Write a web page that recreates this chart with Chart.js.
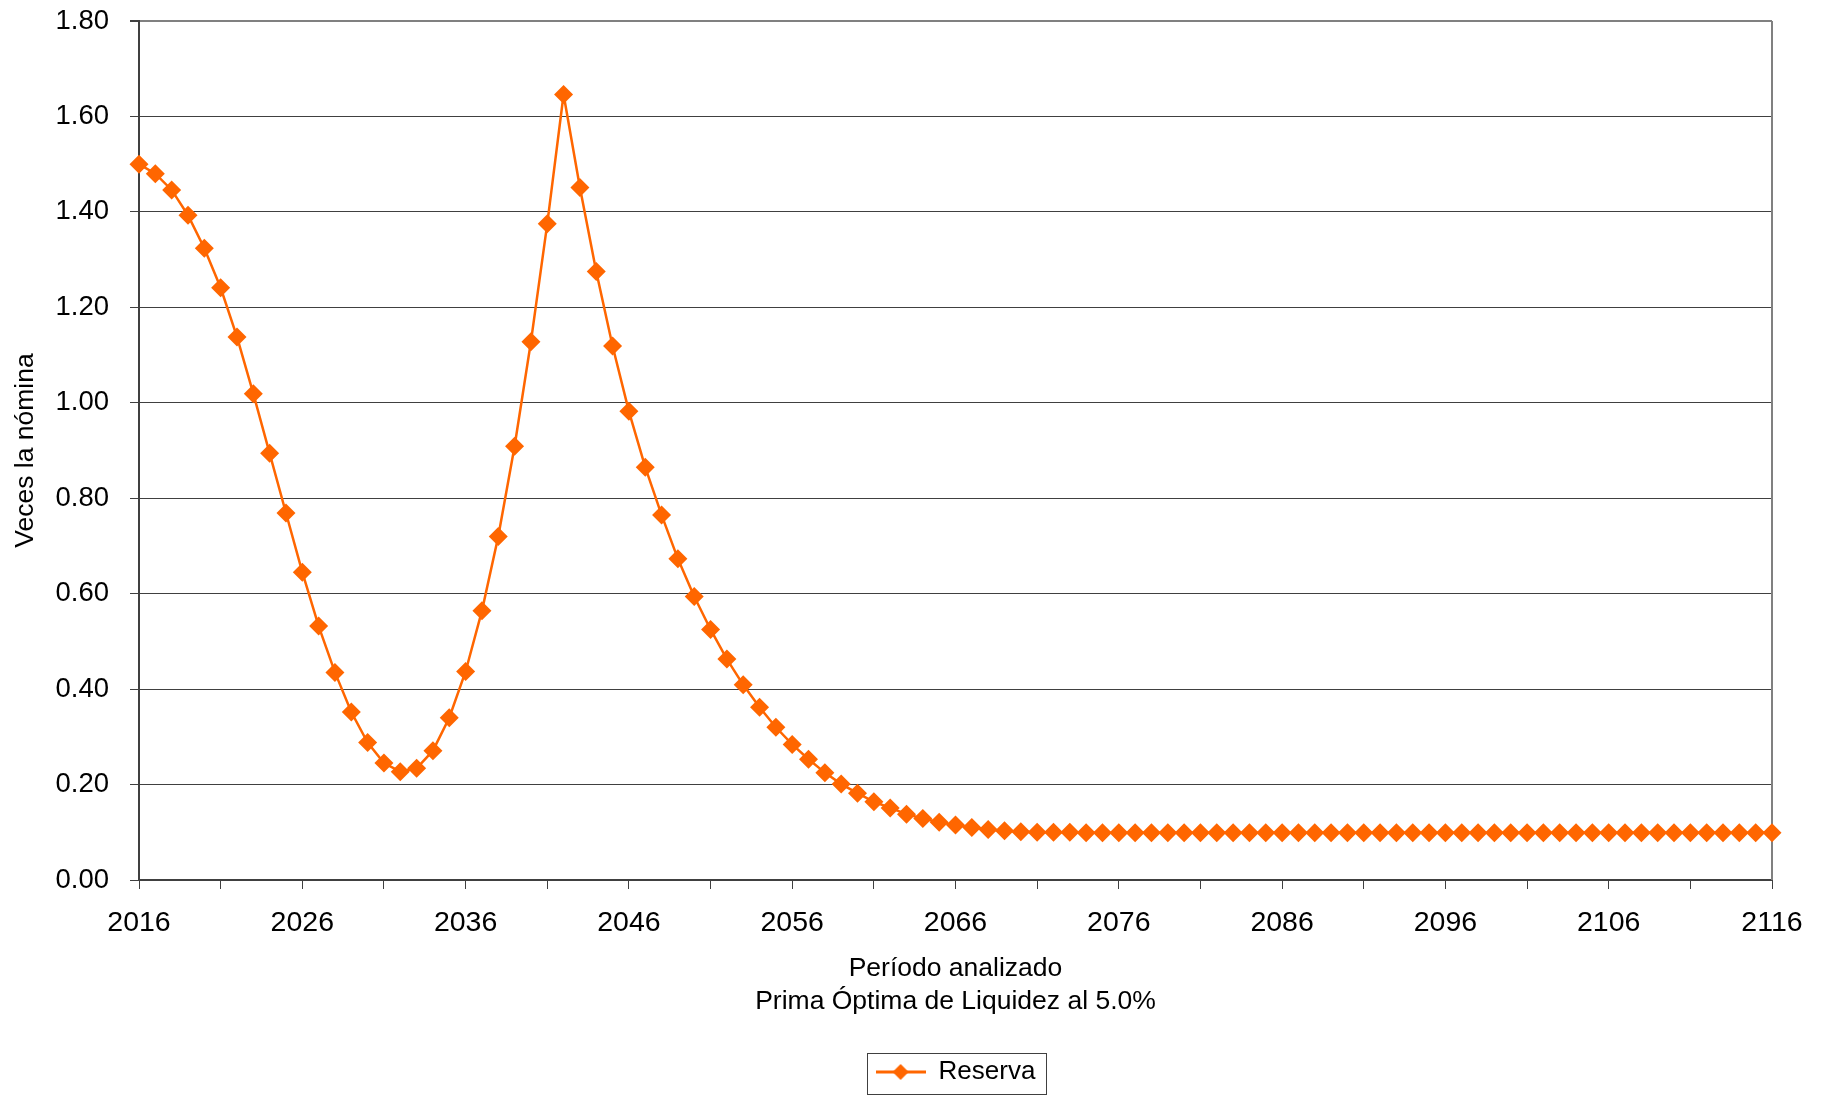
<!DOCTYPE html>
<html>
<head>
<meta charset="utf-8">
<title>Reserva</title>
<script src="https://cdn.jsdelivr.net/npm/chart.js@4"></script>
<style>
  html, body { margin: 0; padding: 0; background: #fff; }
  canvas { display: block; }
</style>
</head>
<body>
<canvas id="chart" width="1829" height="1095"></canvas>
<script>
// years on the x axis (one point per year)
const years = [
  2016, 2017, 2018, 2019, 2020, 2021, 2022, 2023, 2024, 2025,
  2026, 2027, 2028, 2029, 2030, 2031, 2032, 2033, 2034, 2035,
  2036, 2037, 2038, 2039, 2040, 2041, 2042, 2043, 2044, 2045,
  2046, 2047, 2048, 2049, 2050, 2051, 2052, 2053, 2054, 2055,
  2056, 2057, 2058, 2059, 2060, 2061, 2062, 2063, 2064, 2065,
  2066, 2067, 2068, 2069, 2070, 2071, 2072, 2073, 2074, 2075,
  2076, 2077, 2078, 2079, 2080, 2081, 2082, 2083, 2084, 2085,
  2086, 2087, 2088, 2089, 2090, 2091, 2092, 2093, 2094, 2095,
  2096, 2097, 2098, 2099, 2100, 2101, 2102, 2103, 2104, 2105,
  2106, 2107, 2108, 2109, 2110, 2111, 2112, 2113, 2114, 2115,
  2116
];

// Reserva, veces la nomina
const reserva = [
  1.500, 1.480, 1.446, 1.393, 1.324, 1.241, 1.138, 1.019, 0.894, 0.769,
  0.645, 0.532, 0.435, 0.352, 0.288, 0.245, 0.227, 0.234, 0.271, 0.340,
  0.437, 0.564, 0.720, 0.909, 1.128, 1.375, 1.646, 1.451, 1.275, 1.119,
  0.982, 0.865, 0.765, 0.673, 0.594, 0.525, 0.463, 0.409, 0.362, 0.320,
  0.284, 0.253, 0.225, 0.201, 0.182, 0.164, 0.151, 0.138, 0.129, 0.121,
  0.115, 0.110, 0.106, 0.103, 0.101, 0.100, 0.100, 0.100, 0.099, 0.099,
  0.099, 0.099, 0.099, 0.099, 0.099, 0.099, 0.099, 0.099, 0.099, 0.099,
  0.099, 0.099, 0.099, 0.099, 0.099, 0.099, 0.099, 0.099, 0.099, 0.099,
  0.099, 0.099, 0.099, 0.099, 0.099, 0.099, 0.099, 0.099, 0.099, 0.099,
  0.099, 0.099, 0.099, 0.099, 0.099, 0.099, 0.099, 0.099, 0.099, 0.099,
  0.099
];

// axis settings
const yMin = 0, yMax = 1.8, yStep = 0.2;
const xTickYears = years.filter((y, i) => i % 5 === 0);   // tick marks
const xLabelYears = years.filter((y, i) => i % 10 === 0); // labelled ticks

const orange = '#FF6600';
const gridColor = '#404040';
const frameColor = '#808080';

Chart.defaults.font.family = "'Liberation Sans', Arial, sans-serif";
Chart.defaults.color = '#000';

// little line + diamond image for the legend
function legendSymbol() {
  const c = document.createElement('canvas');
  c.width = 50; c.height = 20;
  const g = c.getContext('2d');
  g.strokeStyle = orange;
  g.lineWidth = 3;
  g.beginPath(); g.moveTo(0, 10); g.lineTo(50, 10); g.stroke();
  g.fillStyle = orange;
  g.beginPath();
  g.moveTo(25, 2); g.lineTo(33, 10); g.lineTo(25, 18); g.lineTo(17, 10);
  g.closePath(); g.fill();
  return c;
}
const symbol = legendSymbol();

// right border + box around the legend
const framePlugin = {
  id: 'frame',
  beforeDatasetsDraw(chart) {
    const { ctx, chartArea: a } = chart;
    ctx.save();
    ctx.strokeStyle = frameColor;
    ctx.lineWidth = 2;
    ctx.beginPath();
    ctx.moveTo(a.right, a.top);
    ctx.lineTo(a.right, a.bottom);
    ctx.stroke();
    ctx.restore();
  },
  afterDraw(chart) {
    const box = chart.legend.legendHitBoxes[0];
    if (!box) return;
    const ctx = chart.ctx;
    ctx.save();
    ctx.strokeStyle = gridColor;
    ctx.lineWidth = 1;
    ctx.strokeRect(Math.round(box.left - 9) + 0.5, Math.round(box.top - 6) + 0.5,
      Math.round(box.width + 19), Math.round(box.height + 15));
    ctx.restore();
  }
};

new Chart(document.getElementById('chart'), {
  type: 'line',
  data: {
    datasets: [{
      label: 'Reserva',
      data: years.map((y, i) => ({ x: y, y: reserva[i] })),
      borderColor: orange,
      backgroundColor: orange,
      borderWidth: 2.5,
      pointStyle: 'rectRot',
      pointRadius: 9.5,
      pointBackgroundColor: orange,
      pointBorderColor: orange,
      pointBorderWidth: 0,
      tension: 0,
      clip: false
    }]
  },
  options: {
    responsive: false,
    animation: false,
    layout: { padding: { left: 0, right: 57, top: 21, bottom: 0 } },
    plugins: {
      legend: {
        position: 'bottom',
        fullSize: false,
        labels: {
          usePointStyle: true,
          pointStyleWidth: 50,
          font: { size: 26 },
          padding: 10,
          color: '#000',
          generateLabels: chart => chart.data.datasets.map((ds, i) => ({
            text: ds.label,
            pointStyle: symbol,
            fillStyle: orange,
            strokeStyle: orange,
            lineWidth: 0,
            datasetIndex: i
          }))
        }
      },
      tooltip: { enabled: false }
    },
    scales: {
      x: {
        type: 'linear',
        min: years[0],
        max: years[years.length - 1],
        afterBuildTicks: s => { s.ticks = xTickYears.map(v => ({ value: v })); },
        afterFit: s => { s.height = 169; },
        ticks: {
          autoSkip: false,
          maxRotation: 0,
          padding: 17,
          font: { size: 28.5 },
          color: '#000',
          callback: v => xLabelYears.includes(v) ? String(v) : ''
        },
        grid: {
          drawOnChartArea: false,
          drawTicks: true,
          tickLength: 9,
          tickColor: gridColor,
          tickWidth: 1
        },
        border: { color: gridColor, width: 2 },
        title: {
          display: true,
          text: ['Período analizado', 'Prima Óptima de Liquidez al 5.0%'],
          font: { size: 26.5, lineHeight: 1.25 },
          color: '#000',
          padding: { top: 0, bottom: 31 }
        }
      },
      y: {
        min: yMin,
        max: yMax,
        afterFit: s => { s.width = 139; s.paddingTop = 0; s.paddingBottom = 0; },
        ticks: {
          stepSize: yStep,
          padding: 21,
          font: { size: 27.5 },
          color: '#000',
          callback: v => v.toFixed(2)
        },
        grid: {
          color: ctx => ctx.tick && Math.abs(ctx.tick.value - yMax) < 1e-9 ? frameColor : gridColor,
          lineWidth: ctx => ctx.tick && Math.abs(ctx.tick.value - yMax) < 1e-9 ? 2 : 1,
          tickLength: 9,
          tickColor: gridColor
        },
        border: { color: gridColor, width: 2 },
        title: {
          display: true,
          text: 'Veces la nómina',
          font: { size: 26.5 },
          color: '#000',
          padding: { top: 10, bottom: 0 }
        }
      }
    }
  },
  plugins: [framePlugin]
});
</script>
</body>
</html>
